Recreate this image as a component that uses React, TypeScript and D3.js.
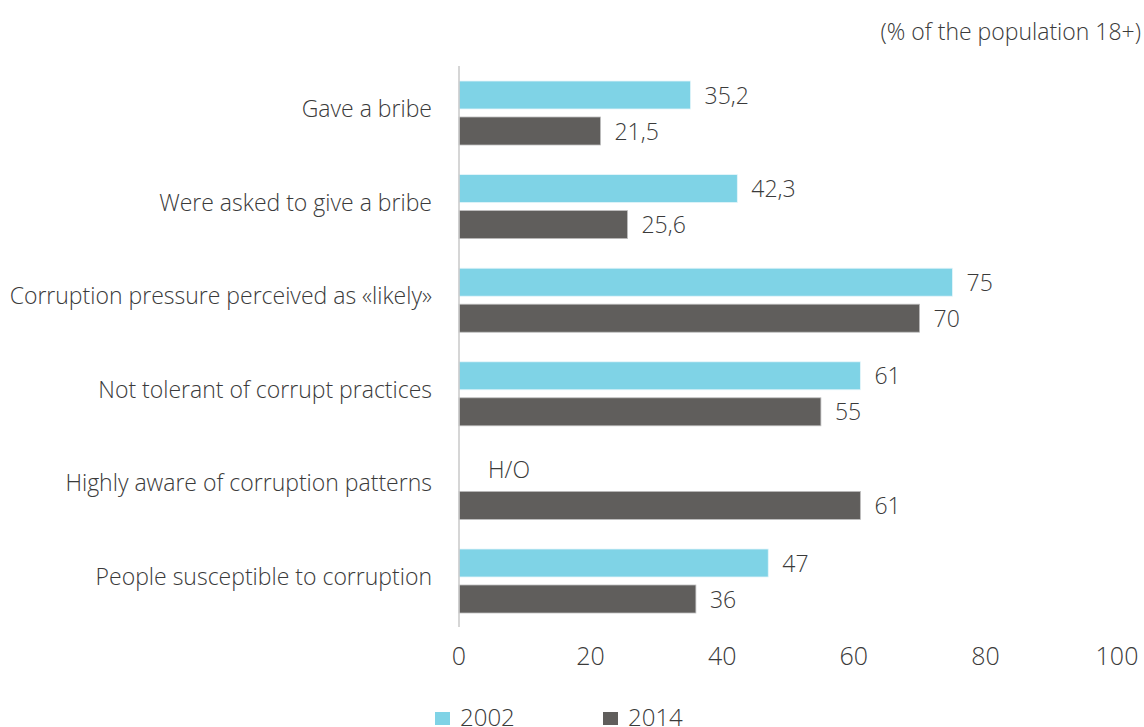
import React from "react";
import * as d3 from "d3";

const categories = [
  "Gave a bribe",
  "Were asked to give a bribe",
  "Corruption pressure perceived as «likely»",
  "Not tolerant of corrupt practices",
  "Highly aware of corruption patterns",
  "People susceptible to corruption",
];
const values2002: (number | null)[] = [35.2, 42.3, 75, 61, null, 47];
const values2014: number[] = [21.5, 25.6, 70, 55, 61, 36];
const xTicks = [0, 20, 40, 60, 80, 100];
const seriesNames = ["2002", "2014"];
const colors = ["#7fd3e6", "#605e5c"];
const missingLabel = "Н/О";
const unitNote = "(% of the population 18+)";

const fmt = (v: number) => String(v).replace(".", ",");

export default function App() {
  const W = 1144, H = 727;
  const x = d3.scaleLinear().domain([0, 100]).range([459, 1117]);
  const y = d3.scaleBand<string>().domain(categories).range([66.2, 627.8]);
  const font = "'Open Sans', sans-serif";
  const textColor = "#3a3a3a";
  const barH = 28;
  const off = 18;
  const fw = 300;
  const fs = 23;

  return (
    <svg width={W} height={H} style={{ position: "absolute", left: 0, top: 0, background: "#fff" }} fontFamily={font} fontWeight={fw}>
      <text x={1141} y={40} textAnchor="end" fontSize={fs} fill={textColor}>{unitNote}</text>
      {categories.map((c, i) => {
        const cy = (y(c) as number) + y.bandwidth() / 2;
        const v1 = values2002[i];
        const v2 = values2014[i];
        return (
          <g key={c}>
            <text x={432} y={cy + 4} textAnchor="end" fontSize={fs} fill={textColor}>{c}</text>
            {v1 !== null ? (
              <>
                <rect x={x(0)} y={cy - off - barH / 2} width={x(v1) - x(0)} height={barH} fill={colors[0]} stroke="#e6f6fa" strokeWidth={0.8} />
                <text x={x(v1) + 14} y={cy - off + 8.5} fontSize={fs} fill={textColor}>{fmt(v1)}</text>
              </>
            ) : (
              <text x={x(0) + 29} y={cy - off + 8.5} fontSize={fs} fill={textColor}>{missingLabel}</text>
            )}
            <rect x={x(0)} y={cy + off - barH / 2} width={x(v2) - x(0)} height={barH} fill={colors[1]} stroke="#bdbdbd" strokeWidth={0.8} />
            <text x={x(v2) + 14} y={cy + off + 8.5} fontSize={fs} fill={textColor}>{fmt(v2)}</text>
          </g>
        );
      })}
      <line x1={x(0)} x2={x(0)} y1={66} y2={627} stroke="#c8c8c8" strokeWidth={1.5} />
      {xTicks.map((t) => (
        <text key={t} x={x(t)} y={665} textAnchor="middle" fontSize={25} fill={textColor}>{t}</text>
      ))}
      {seriesNames.map((s, i) => (
        <g key={s} transform={`translate(${435 + i * 168},712)`}>
          <rect x={0} y={0} width={15} height={13} fill={colors[i]} />
          <text x={25} y={14} fontSize={24} fill={textColor}>{s}</text>
        </g>
      ))}
    </svg>
  );
}
